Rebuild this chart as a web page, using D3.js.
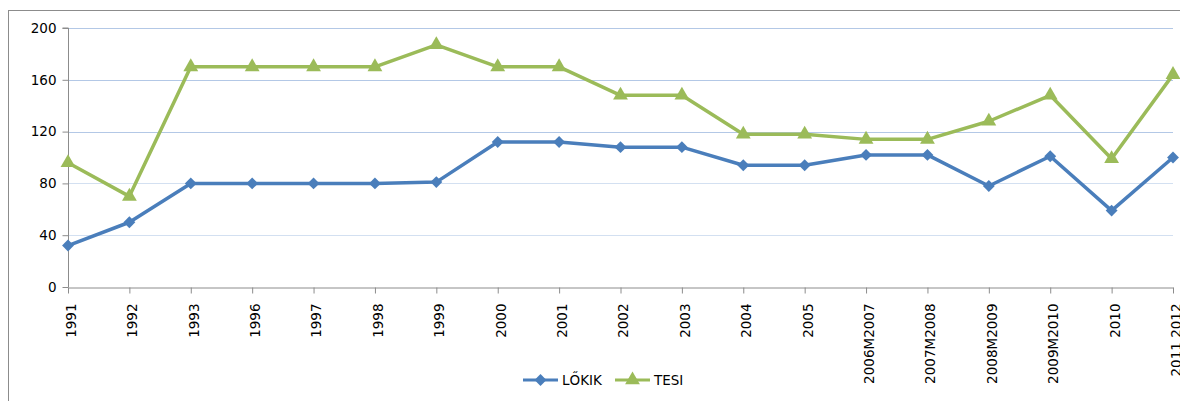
<!DOCTYPE html>
<html>
<head>
<meta charset="utf-8">
<script src="https://cdn.jsdelivr.net/npm/d3@7"></script>
<style>
  body { margin: 0; background: #fff; }
  svg { display: block; font-family: "DejaVu Sans", sans-serif; }
</style>
</head>
<body>
<script>
// categories along the x axis
var years = ["1991", "1992", "1993", "1996", "1997", "1998", "1999", "2000", "2001",
             "2002", "2003", "2004", "2005", "2006M2007", "2007M2008", "2008M2009",
             "2009M2010", "2010", "2011 2012"];

// series values
var lokik = [32, 50, 80, 80, 80, 80, 81, 112, 112, 108, 108, 94, 94, 102, 102, 78, 101, 59, 100];
var tesi  = [96, 70, 170, 170, 170, 170, 187, 170, 170, 148, 148, 118, 118, 114, 114, 128, 148, 99, 164];

var yTicks = [0, 40, 80, 120, 160, 200];
var seriesNames = ["LŐKIK", "TESI"];

var width = 1180, height = 401;
var blue = "#4a7ebb", green = "#9bbb59";

var svg = d3.select("body").append("svg")
    .attr("width", width)
    .attr("height", height);

// outer chart frame (runs off the right and bottom edges)
svg.append("rect")
    .attr("x", 8.5).attr("y", 10.5)
    .attr("width", 1200).attr("height", 420)
    .attr("fill", "none")
    .attr("stroke", "#8c8c8c")
    .attr("stroke-width", 1);

var x = d3.scalePoint()
    .domain(years)
    .range([68, 1173]);

var y = d3.scaleLinear()
    .domain([0, 200])
    .range([287, 28]);

// gridlines
svg.append("g")
    .selectAll("line")
    .data(yTicks.filter(function(d) { return d > 0; }))
    .enter()
    .append("line")
    .attr("x1", 68).attr("x2", 1173)
    .attr("y1", function(d) { return Math.round(y(d)) + 0.5; })
    .attr("y2", function(d) { return Math.round(y(d)) + 0.5; })
    .attr("stroke", function(d) { return d >= 120 ? "#b3c8e6" : "#d3e0f1"; })
    .attr("stroke-width", 1);

// y axis
var yAxis = svg.append("g")
    .attr("transform", "translate(68.5,0)")
    .call(d3.axisLeft(y).tickValues(yTicks).tickSize(6).tickPadding(6));
yAxis.select(".domain").attr("stroke", "#8c8c8c").attr("d", "M-6," + y(200) + "H0V" + y(0));
yAxis.selectAll(".tick line").attr("stroke", "#8c8c8c");
yAxis.selectAll(".tick text")
    .attr("fill", "#000")
    .style("font-size", "13.5px")
    .style("font-family", "DejaVu Sans, sans-serif");

// x axis
var xAxis = svg.append("g")
    .attr("transform", "translate(0," + (y(0) + 0.5) + ")")
    .call(d3.axisBottom(x).tickSize(6).tickSizeOuter(0));
xAxis.select(".domain").attr("stroke", "#8c8c8c");
xAxis.selectAll(".tick line").attr("stroke", "#8c8c8c");
xAxis.selectAll(".tick text")
    .attr("fill", "#000")
    .style("font-size", "13.5px")
    .style("font-family", "DejaVu Sans, sans-serif")
    .attr("text-anchor", "end")
    .attr("transform", "rotate(-90)")
    .attr("x", -16)
    .attr("y", 0)
    .attr("dy", "0.55em");

var line = d3.line()
    .x(function(d, i) { return x(years[i]); })
    .y(function(d) { return y(d); });

var diamond = d3.symbol().type(d3.symbolDiamond2).size(90);
var triangle = d3.symbol().type(d3.symbolTriangle).size(95);

function drawSeries(values, color, sym) {
  var g = svg.append("g");
  g.append("path")
    .datum(values)
    .attr("d", line)
    .attr("fill", "none")
    .attr("stroke", color)
    .attr("stroke-width", 3.5)
    .attr("stroke-linejoin", "round");
  g.selectAll("path.mark")
    .data(values)
    .enter()
    .append("path")
    .attr("class", "mark")
    .attr("d", sym)
    .attr("transform", function(d, i) { return "translate(" + x(years[i]) + "," + y(d) + ")"; })
    .attr("fill", color);
}

drawSeries(lokik, blue, diamond);
drawSeries(tesi, green, triangle);

// legend
var legendData = [
  { name: seriesNames[0], color: blue, sym: diamond, x: 523 },
  { name: seriesNames[1], color: green, sym: triangle, x: 615 }
];
var legend = svg.append("g")
    .selectAll("g")
    .data(legendData)
    .enter()
    .append("g")
    .attr("transform", function(d) { return "translate(" + d.x + ",380)"; });

legend.append("line")
    .attr("x1", 0).attr("x2", 35)
    .attr("stroke", function(d) { return d.color; })
    .attr("stroke-width", 3);
legend.append("path")
    .attr("d", function(d) { return d.sym(); })
    .attr("transform", "translate(17.5,0)")
    .attr("fill", function(d) { return d.color; });
legend.append("text")
    .attr("x", 39)
    .attr("dy", "0.36em")
    .style("font-size", "13.5px")
    .text(function(d) { return d.name; });
</script>
</body>
</html>
